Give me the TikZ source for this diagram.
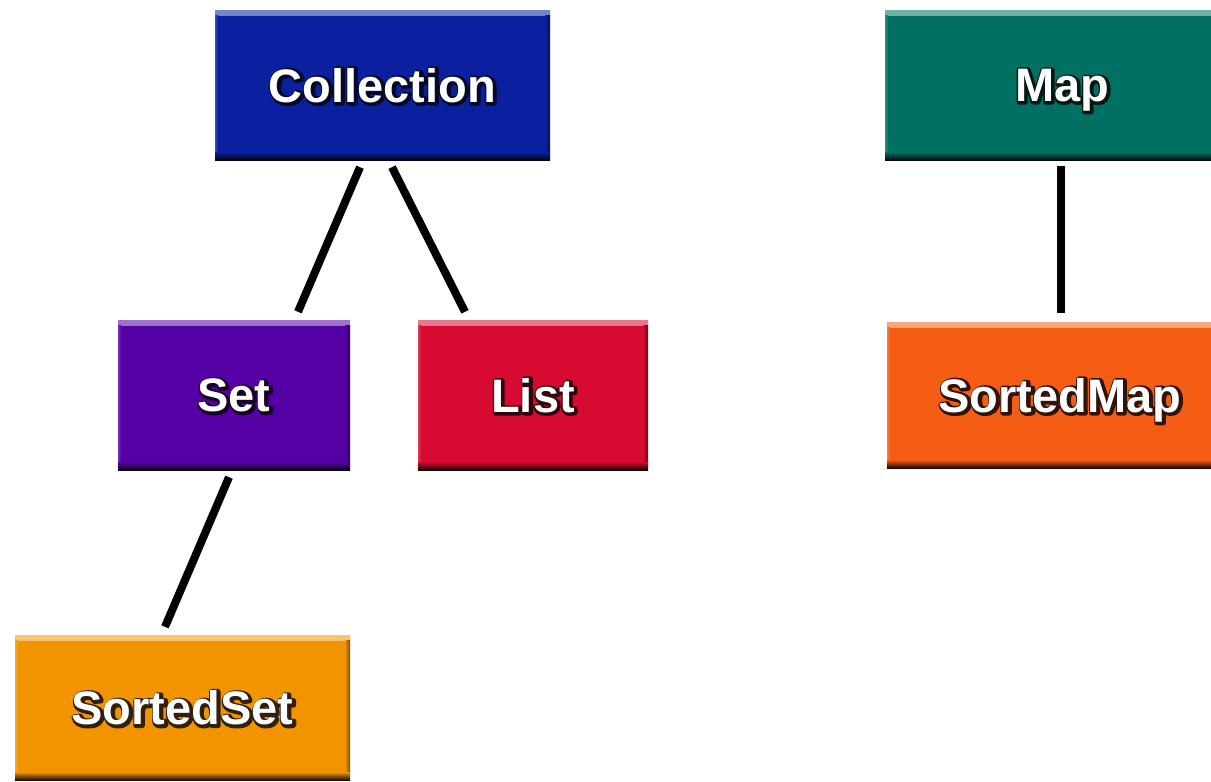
\documentclass[tikz,border=0pt]{standalone}
\usepackage{fontspec}
\newfontfamily\boxfont{Liberation Sans}[BoldFont={* Bold}]
\definecolor{cColl}{RGB}{10,32,158}
\definecolor{cSet}{RGB}{85,0,165}
\definecolor{cList}{RGB}{215,10,50}
\definecolor{cSSet}{RGB}{242,148,0}
\definecolor{cMap}{RGB}{0,112,98}
\definecolor{cSMap}{RGB}{245,92,20}
% white letters over a dark stroked halo
\newcommand\gtext[2]{\setbox0\hbox{#2}%
  \rlap{\kern1pt\raise-1pt\hbox{\special{pdf:literal direct 1 Tr 5 w 1 j #1 RG}\copy0\special{pdf:literal direct 0 Tr 0 j}}}%
  \box0}
\tikzset{
  box/.style={rectangle, inner sep=0pt, fill=#1, text=white, text depth=0pt,
    font=\boxfont\bfseries\fontsize{47}{50}\selectfont,
    path picture={
      \shade[top color=#1!55!white, bottom color=#1]
        (path picture bounding box.north west) rectangle ([yshift=-5pt]path picture bounding box.north east);
      \shade[left color=#1!80!white, right color=#1]
        ([yshift=-5pt]path picture bounding box.north west) rectangle ([xshift=3pt,yshift=8pt]path picture bounding box.south west);
      \shade[left color=#1, right color=#1!50!black]
        ([xshift=-5pt,yshift=-5pt]path picture bounding box.north east) rectangle ([yshift=8pt]path picture bounding box.south east);
      \shade[top color=#1, bottom color=#1!10!black]
        ([yshift=8pt]path picture bounding box.south west) rectangle (path picture bounding box.south east);
    }},
  conn/.style={draw=black, line width=8pt}
}
\begin{document}
\begin{tikzpicture}[x=1pt,y=1pt]
\clip (0,0) rectangle (1211,-782);
\fill[white] (0,0) rectangle (1211,-782);
\node[box=cColl, minimum width=335pt, minimum height=150pt] (Collection) at (382.5,-85) {\gtext{0.02 0.03 0.15}{Collection}};
\node[box=cSet, minimum width=232pt, minimum height=150pt] (Set) at (234,-395) {\gtext{0.1 0.0 0.15}{Set}};
\node[box=cList, minimum width=230pt, minimum height=150pt] (List) at (533,-395) {\gtext{0.2 0.02 0.05}{List}};
\node[box=cSSet, minimum width=335pt, minimum height=145pt] (SortedSet) at (182.5,-707.5) {\gtext{0.2 0.12 0.05}{SortedSet}};
\node[box=cMap, minimum width=354pt, minimum height=150pt] (Map) at (1062,-85) {\gtext{0.02 0.1 0.08}{Map}};
\node[box=cSMap, minimum width=346pt, minimum height=146pt] (SortedMap) at (1060,-395) {\gtext{0.2 0.07 0.03}{SortedMap}};
\draw[conn] ([xshift=-22.5pt,yshift=-7pt]Collection.south) -- ([xshift=64pt,yshift=8pt]Set.north);
\draw[conn] ([xshift=9.5pt,yshift=-7pt]Collection.south) -- ([xshift=-68pt,yshift=8pt]List.north);
\draw[conn] ([xshift=-5pt,yshift=-7pt]Set.south) -- ([xshift=-17.5pt,yshift=8pt]SortedSet.north);
\draw[conn] ([xshift=-1pt,yshift=-6pt]Map.south) -- ([xshift=1pt,yshift=9pt]SortedMap.north);
\end{tikzpicture}
\end{document}
